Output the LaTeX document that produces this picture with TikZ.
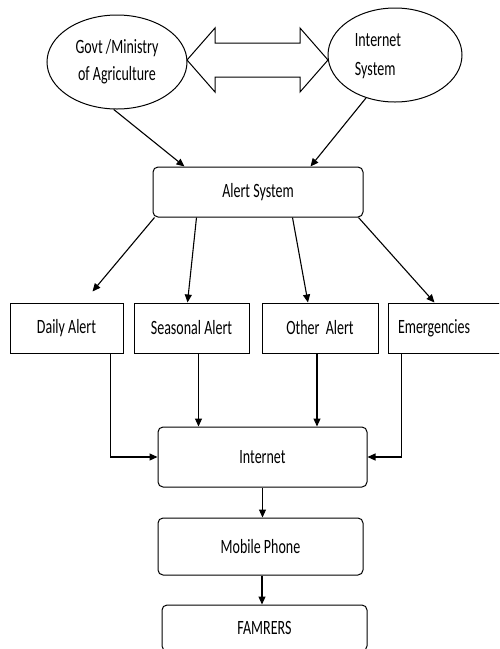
\documentclass[tikz,border=0pt]{standalone}
\usepackage{fontspec}
\setmainfont{Carlito}
\usepackage{tikz}
\usetikzlibrary{arrows.meta,shapes.geometric}

\newcommand\tall[1]{\scalebox{1}[1.45]{#1}}

\tikzset{
  box/.style={draw,line width=1pt,minimum height=50pt,inner sep=0pt,font=\fontsize{14}{17}\selectfont},
  rbox/.style={box,rounded corners=5pt},
  oval/.style={draw,ellipse,line width=1pt,inner sep=0pt,font=\fontsize{14}{27}\selectfont},
  arr/.style={line width=1.1pt,-{Triangle[length=8pt,width=7pt]}}
}

\begin{document}
\begin{tikzpicture}[x=1pt,y=1pt]
\clip (0,0) rectangle (499,-649);
\fill[white] (0,0) rectangle (499,-649);
% sources
\node[oval,minimum width=140pt,minimum height=94pt,align=center] (gov) at (117,-62) {\tall{Govt /Ministry}\\\tall{of Agriculture}};
\node[oval,minimum width=134pt,minimum height=94pt] (inet) at (395,-55) {};
\node[font=\fontsize{14}{29}\selectfont,align=left] (inettxt) at (378,-56) {\tall{Internet}\\\tall{System}};
\draw[line width=1pt] (187,-60)--(215,-28)--(215,-43)--(300,-43)--(300,-28)--(328,-60)
  --(300,-92)--(300,-77)--(215,-77)--(215,-92)--cycle;
% alert system
\node[rbox,minimum width=210pt] (alert) at (258,-192) {\tall{Alert System}};
\draw[arr] (gov.266) -- ([xshift=32pt]alert.north west);
\draw[arr] (inet.236) -- ([xshift=-53pt]alert.north east);
% kinds of alert
\node[box,minimum width=113pt] (daily) at (66.5,-328) {\tall{Daily Alert}};
\node[box,minimum width=115pt] (seasonal) at (191.5,-328) {\tall{Seasonal Alert}};
\node[box,minimum width=116pt] (other) at (320,-328) {\tall{Other\ \ Alert}};
\node[box,minimum width=114pt,text width=94pt,align=left] (emerg) at (445,-328) {\tall{Emergencies}};
\draw[arr] ([xshift=2pt]alert.south west) -- ([xshift=26pt,yshift=11pt]daily.north);
\draw[arr] ([xshift=44pt]alert.south west) -- ([xshift=-4pt]seasonal.north);
\draw[arr] ([xshift=140pt]alert.south west) -- ([xshift=-12pt]other.north);
\draw[arr] ([xshift=-5pt]alert.south east) -- ([xshift=47pt]emerg.north west);
% delivery
\node[rbox,minimum width=209pt,minimum height=60pt] (internet) at (262.5,-457) {\tall{Internet}};
\node[rbox,minimum width=205pt,minimum height=57pt] (mobile) at (260.5,-546.5) {\tall{Mobile Phone}};
\node[rbox,minimum width=205pt,minimum height=46pt] (famrers) at (264.5,-628) {\tall{FAMRERS}};
\draw[arr] ([xshift=-13pt]daily.south east) |- (internet.west);
\draw[arr] ([xshift=14pt]emerg.south west) |- (internet.east);
\draw[arr] ([xshift=7pt]seasonal.south) -- ([xshift=7pt]seasonal.south |- internet.north);
\draw[arr] ([xshift=-3pt]other.south) -- ([xshift=-3pt]other.south |- internet.north);
\draw[arr] (internet.south) -- (internet.south |- mobile.north);
\draw[arr] ([xshift=1.5pt]mobile.south) -- ([xshift=1.5pt]mobile.south |- famrers.north);
\end{tikzpicture}
\end{document}
